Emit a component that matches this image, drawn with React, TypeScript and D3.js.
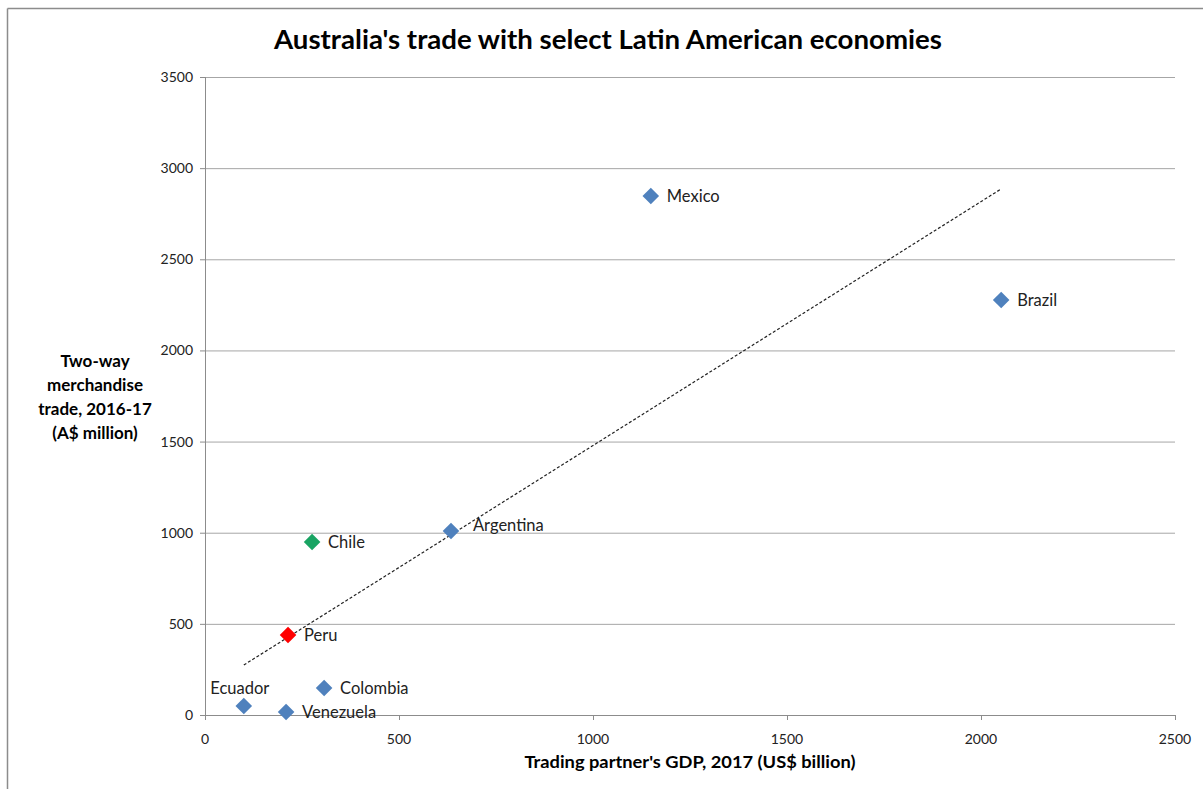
import React from "react";
import * as d3 from "d3";

const countries = ["Mexico", "Brazil", "Argentina", "Chile", "Peru", "Colombia", "Ecuador", "Venezuela"];
const gdp = [1149, 2052, 634, 276, 214, 307, 100, 209];
const trade = [2847, 2277, 1009, 949, 439, 148, 49, 16];
const pointColors = ["#4F81BD", "#4F81BD", "#4F81BD", "#19A463", "#FF0000", "#4F81BD", "#4F81BD", "#4F81BD"];
const xTicks = [0, 500, 1000, 1500, 2000, 2500];
const yTicks = [0, 500, 1000, 1500, 2000, 2500, 3000, 3500];

const W = 1203;
const H = 789;
const FONT = "Lato, 'Open Sans', sans-serif";

export default function App() {
  const x = d3.scaleLinear().domain([0, 2500]).range([205, 1175]);
  const y = d3.scaleLinear().domain([0, 3500]).range([715, 77]);

  // linear least squares trendline
  const mx = d3.mean(gdp) as number;
  const my = d3.mean(trade) as number;
  let sxy = 0, sxx = 0;
  gdp.forEach((g, i) => {
    sxy += (g - mx) * (trade[i] - my);
    sxx += (g - mx) * (g - mx);
  });
  const slope = sxy / sxx;
  const icpt = my - slope * mx;
  const x0 = d3.min(gdp) as number;
  const x1 = d3.max(gdp) as number;
  const line = d3.line<number>().x((d) => x(d)).y((d) => y(icpt + slope * d));

  const diamond = d3.symbol().type(d3.symbolDiamond2).size(175)() as string;

  return (
    <svg width={W} height={H} style={{ position: "absolute", left: 0, top: 0 }} fontFamily={FONT}>
      <rect x={0} y={0} width={W} height={H} fill="#fff" />
      <line x1={7.5} y1={8.5} x2={W} y2={8.5} stroke="#8c8c8c" strokeWidth={1.5} />
      <line x1={7.5} y1={8.5} x2={7.5} y2={H} stroke="#8c8c8c" strokeWidth={1.5} />

      <text x={608} y={49} textAnchor="middle" fontSize={26} fontWeight="bold" fill="#000"
        textLength={668} lengthAdjust="spacingAndGlyphs">
        Australia's trade with select Latin American economies
      </text>

      {yTicks.map((t) => (
        <g key={"y" + t}>
          {t > 0 && <line x1={205} x2={1175} y1={y(t) + 0.5} y2={y(t) + 0.5} stroke="#a6a6a6" strokeWidth={1} />}
          <line x1={200} x2={205} y1={y(t) + 0.5} y2={y(t) + 0.5} stroke="#8c8c8c" />
          <text x={193} y={y(t) + 5} textAnchor="end" fontSize={14} fill="#222">{t}</text>
        </g>
      ))}
      {xTicks.map((t) => (
        <g key={"x" + t}>
          <line x1={x(t) + 0.5} x2={x(t) + 0.5} y1={715} y2={720} stroke="#8c8c8c" />
          <text x={x(t)} y={744} textAnchor="middle" fontSize={14} fill="#222">{t}</text>
        </g>
      ))}
      <line x1={205.5} x2={205.5} y1={77} y2={715} stroke="#8c8c8c" />
      <line x1={205} x2={1175} y1={715.5} y2={715.5} stroke="#8c8c8c" />

      <path d={line([x0, x1]) as string} fill="none" stroke="#222" strokeWidth={1.2} strokeDasharray="3,2" />

      {countries.map((c, i) => {
        const px = x(gdp[i]);
        const py = y(trade[i]);
        const isEcuador = c === "Ecuador";
        const isArg = c === "Argentina";
        return (
          <g key={c}>
            <path d={diamond} transform={`translate(${px},${py})`} fill={pointColors[i]} />
            <text
              x={isEcuador ? px - 4 : px + (isArg ? 22 : 16)}
              y={isEcuador ? py - 12 : py + (isArg ? 0 : 6)}
              textAnchor={isEcuador ? "middle" : "start"}
              fontSize={16.5}
              fill="#222"
            >
              {c}
            </text>
          </g>
        );
      })}

      <text x={690} y={768} textAnchor="middle" fontSize={17} fontWeight="bold" fill="#000"
        textLength={331} lengthAdjust="spacingAndGlyphs">
        Trading partner's GDP, 2017 (US$ billion)
      </text>
      {["Two-way", "merchandise", "trade, 2016-17", "(A$ million)"].map((s, i) => (
        <text key={s} x={95} y={367 + i * 24} textAnchor="middle" fontSize={17} fontWeight="bold" fill="#000">
          {s}
        </text>
      ))}
    </svg>
  );
}
